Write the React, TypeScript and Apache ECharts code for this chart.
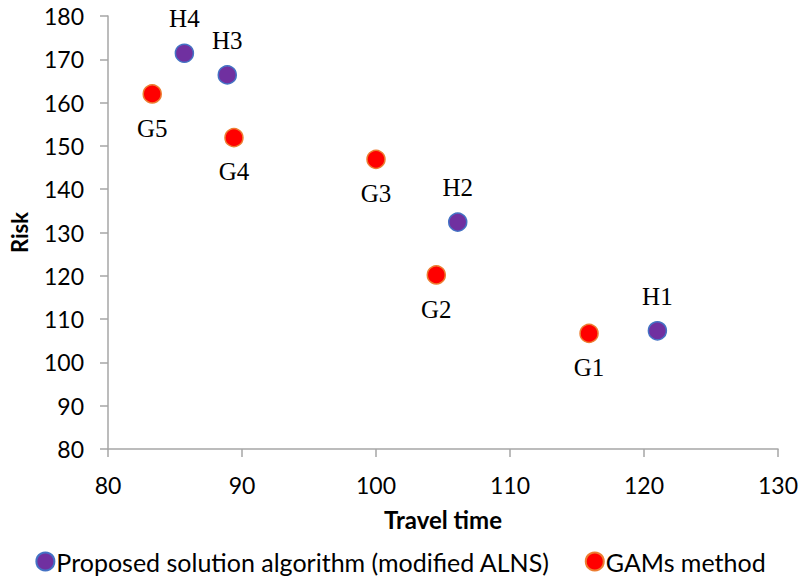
import React, { useEffect, useRef } from "react";
import * as echarts from "echarts";

const hLabels = ["H1", "H2", "H3", "H4"];
const hTime = [121.0, 106.1, 88.9, 85.7];
const hRisk = [107.3, 132.4, 166.4, 171.4];

const gLabels = ["G1", "G2", "G3", "G4", "G5"];
const gTime = [115.9, 104.5, 100.0, 89.4, 83.3];
const gRisk = [106.7, 120.2, 146.9, 151.9, 162.0];

const xTicks = { min: 80, max: 130, interval: 10 };
const yTicks = { min: 80, max: 180, interval: 10 };

const axisFont = "Lato, 'Open Sans', sans-serif";
const labelFont = "'Liberation Serif', 'DejaVu Serif', serif";

export default function App() {
  const ref = useRef<HTMLDivElement>(null);
  useEffect(() => {
    if (!ref.current) return;
    const chart = echarts.init(ref.current, undefined, { renderer: "svg" });
    const axisLine = { show: true, lineStyle: { color: "#a6a6a6", width: 1.5 } };
    const axisTick = { show: true, length: 8, lineStyle: { color: "#a6a6a6", width: 1.5 } };
    chart.setOption({
      animation: false,
      backgroundColor: "#ffffff",
      grid: { left: 108, right: 21, top: 16, bottom: 132, containLabel: false },
      xAxis: {
        type: "value",
        min: xTicks.min,
        max: xTicks.max,
        interval: xTicks.interval,
        name: "Travel time",
        nameLocation: "middle",
        nameGap: 58,
        nameTextStyle: { fontFamily: axisFont, fontWeight: "bold", fontSize: 24, color: "#000" },
        axisLine,
        axisTick,
        splitLine: { show: false },
        axisLabel: { fontFamily: axisFont, fontSize: 23, color: "#000", margin: 24 },
      },
      yAxis: {
        type: "value",
        min: yTicks.min,
        max: yTicks.max,
        interval: yTicks.interval,
        name: "Risk",
        nameLocation: "middle",
        nameGap: 78,
        nameTextStyle: { fontFamily: axisFont, fontWeight: "bold", fontSize: 22, color: "#000" },
        axisLine,
        axisTick,
        splitLine: { show: false },
        axisLabel: { fontFamily: axisFont, fontSize: 23, color: "#000", margin: 24 },
      },
      legend: {
        bottom: 2,
        left: "center",
        itemGap: 35,
        itemWidth: 18,
        itemHeight: 18,
        icon: "circle",
        textStyle: { fontFamily: axisFont, fontSize: 25, color: "#000", padding: [0, 0, 0, -3] },
        data: ["Proposed solution algorithm (modified ALNS)", "GAMs method"],
      },
      series: [
        {
          name: "Proposed solution algorithm (modified ALNS)",
          type: "scatter",
          symbol: "circle",
          symbolSize: 18,
          itemStyle: { color: "#7030A0", borderColor: "#4472C4", borderWidth: 1.5, opacity: 1 },
          label: {
            show: true,
            position: "top",
            distance: 12,
            formatter: (p: any) => hLabels[p.dataIndex],
            fontFamily: labelFont,
            fontSize: 25,
            color: "#000",
          },
          data: hTime.map((t, i) => [t, hRisk[i]]),
        },
        {
          name: "GAMs method",
          type: "scatter",
          symbol: "circle",
          symbolSize: 18,
          itemStyle: { color: "#FF0000", borderColor: "#ED7D31", borderWidth: 1.5, opacity: 1 },
          label: {
            show: true,
            position: "bottom",
            distance: 12,
            formatter: (p: any) => gLabels[p.dataIndex],
            fontFamily: labelFont,
            fontSize: 25,
            color: "#000",
          },
          data: gTime.map((t, i) => [t, gRisk[i]]),
        },
      ],
    });
    return () => chart.dispose();
  }, []);
  return <div ref={ref} style={{ width: 801, height: 581, position: "absolute", left: 0, top: 0 }} />;
}
